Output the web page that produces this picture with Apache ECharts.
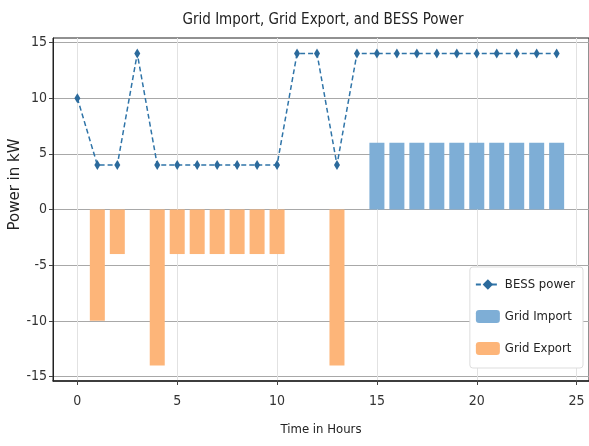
<!DOCTYPE html>
<html>
<head>
<meta charset="utf-8">
<script src="https://cdn.jsdelivr.net/npm/echarts@6/dist/echarts.min.js"></script>
<style>
  html, body { margin: 0; padding: 0; background: #fff; }
  #chart { width: 589px; height: 446px; }
</style>
</head>
<body>
<div id="chart"></div>
<script>
const hours = [0, 1, 2, 3, 4, 5, 6, 7, 8, 9, 10, 11, 12, 13, 14, 15, 16, 17, 18, 19, 20, 21, 22, 23, 24]
const bessPower = [10, 4, 4, 14, 4, 4, 4, 4, 4, 4, 4, 14, 14, 4, 14, 14, 14, 14, 14, 14, 14, 14, 14, 14, 14]
const gridImport = [0, 0, 0, 0, 0, 0, 0, 0, 0, 0, 0, 0, 0, 0, 0, 6, 6, 6, 6, 6, 6, 6, 6, 6, 6]
const gridExport = [0, -10, -4, 0, -14, -4, -4, -4, -4, -4, -4, 0, 0, -14, 0, 0, 0, 0, 0, 0, 0, 0, 0, 0, 0]
const xTicks = [0, 5, 10, 15, 20, 25]
const yTicks = [-15, -10, -5, 0, 5, 10, 15]

const narrow = '"Liberation Sans Narrow", "DejaVu Sans Condensed", sans-serif'

const chart = echarts.init(document.getElementById('chart'))

const pairs = (vals) => hours.map((h, i) => [h, vals[i]])

const option = {
    backgroundColor: '#fff',
    animation: false,
    title: {
        text: 'Grid Import, Grid Export, and BESS Power',
        left: 318,
        top: 8,
        textAlign: 'center',
        textStyle: { fontFamily: narrow, fontSize: 15, fontWeight: 'normal', color: '#222' }
    },
    grid: {
        left: 53, right: 0, top: 38, bottom: 65,
        outerBoundsMode: 'none',
        containLabel: false,
        show: true, borderColor: '#222', borderWidth: 1
    },
    legend: {
        orient: 'vertical',
        right: 6,
        top: 267,
        itemWidth: 24,
        itemHeight: 13,
        itemGap: 19,
        padding: [11, 8, 13, 5],
        backgroundColor: '#fff',
        borderColor: '#ddd',
        borderWidth: 1,
        borderRadius: 3,
        textStyle: { fontFamily: narrow, fontSize: 13, color: '#222' },
        data: ['BESS power', 'Grid Import', 'Grid Export']
    },
    xAxis: {
        type: 'value',
        min: -1.22,
        max: 25.62,
        name: 'Time in Hours',
        nameLocation: 'middle',
        nameGap: 42,
        nameMoveOverlap: false,
        nameTextStyle: { fontFamily: narrow, fontSize: 13, color: '#222' },
        axisLine: { show: true, onZero: false, lineStyle: { color: '#222', width: 1.5 } },
        axisTick: { show: true, length: 4, customValues: xTicks, lineStyle: { color: '#444' } },
        axisLabel: { customValues: xTicks, fontFamily: narrow, fontSize: 14, color: '#333', margin: 13 },
        splitLine: { show: true, lineStyle: { color: '#e2e2e2', width: 1 } }
    },
    yAxis: {
        type: 'value',
        min: -15.4,
        max: 15.4,
        name: 'Power in kW',
        nameLocation: 'middle',
        nameGap: 30,
        nameMoveOverlap: false,
        nameTextStyle: { fontFamily: '"DejaVu Sans", sans-serif', fontSize: 15, color: '#222', padding: [0, 0, 0, 50] },
        axisLine: { show: true, onZero: false, lineStyle: { color: '#222' } },
        axisTick: { show: true, length: 4, customValues: yTicks, lineStyle: { color: '#444' } },
        axisLabel: { customValues: yTicks, fontFamily: narrow, fontSize: 14, color: '#333', margin: 6 },
        splitLine: { show: true, lineStyle: { color: '#a8a8a8', width: 1 } }
    },
    series: [
        {
            name: 'BESS power',
            type: 'line',
            data: pairs(bessPower),
            symbol: 'diamond',
            symbolSize: [6, 10],
            z: 5,
            itemStyle: { color: '#2b6a9c' },
            lineStyle: { color: '#2f74a8', width: 1.5, type: [5, 3] }
        },
        {
            name: 'Grid Import',
            type: 'bar',
            data: pairs(gridImport),
            barWidth: 15,
            barGap: '-100%',
            itemStyle: { color: '#7eaed6' }
        },
        {
            name: 'Grid Export',
            type: 'bar',
            data: pairs(gridExport),
            barWidth: 15,
            barGap: '-100%',
            itemStyle: { color: '#fdb579' }
        }
    ]
}

chart.setOption(option)
</script>
</body>
</html>
